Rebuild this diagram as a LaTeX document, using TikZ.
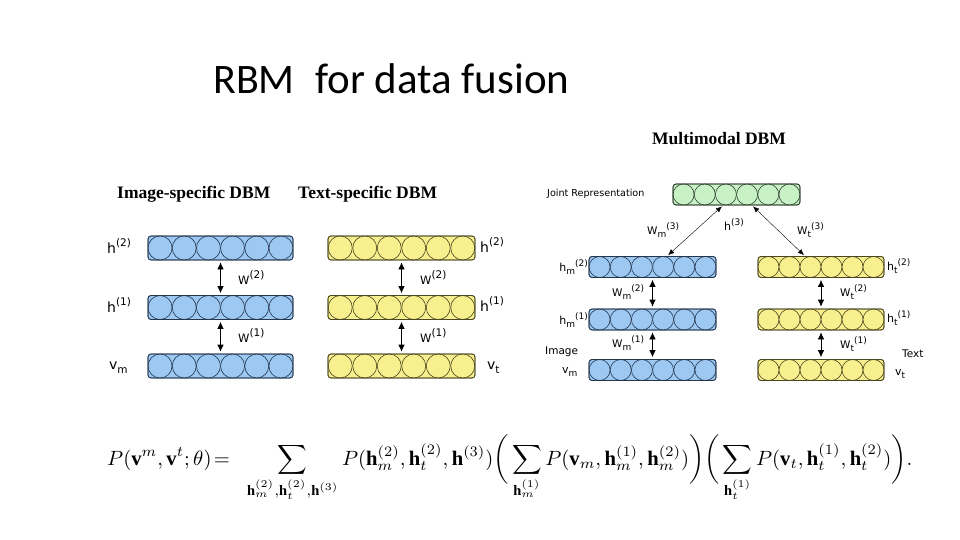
\documentclass[tikz,border=0pt]{standalone}
\usepackage{fontspec}
\usepackage{amsmath}
\setmainfont{Liberation Serif}
\newfontfamily\lab{DejaVu Sans}
\newfontfamily\ttl{Carlito}
\usetikzlibrary{arrows.meta}
\definecolor{bfill}{HTML}{9CC8F2}
\definecolor{bline}{HTML}{24364E}
\definecolor{yfill}{HTML}{F8F08E}
\definecolor{yline}{HTML}{4A4620}
\definecolor{gfill}{HTML}{C8F2C6}
\definecolor{gline}{HTML}{2C3E2C}
\newcommand{\lbl}[5]{{\lab\fontsize{#1}{#1}\selectfont #3\raisebox{-0.28em}{\fontsize{#2}{#2}\selectfont #4}\raisebox{0.5em}{\fontsize{#2}{#2}\selectfont #5}}}
\newcommand{\dbmrow}[8]{%
  \node[barbox, minimum width=#4pt, minimum height=#5pt, fill=#6, draw=#7] (#1) at (#2,#3) {};
  \foreach \i in {0,...,5} {\draw[draw=#7, fill=#6, line width=0.6pt] ({#2-#4/2+(\i+0.5)*#4/6},#3) circle[radius=#8pt];}
  \node[barbox, minimum width=#4pt, minimum height=#5pt, draw=#7] at (#2,#3) {};
}
\tikzset{
  barbox/.style={rectangle, rounded corners=3pt, line width=0.7pt, inner sep=0pt},
  conn/.style={{Latex[length=7pt,width=6.5pt]}-{Latex[length=7pt,width=6.5pt]}, line width=0.7pt, shorten <=2pt, shorten >=2pt},
  diag/.style={{Latex[length=6pt,width=5pt]}-{Latex[length=6pt,width=5pt]}, line width=0.4pt, shorten <=1.5pt, shorten >=1.5pt},
  head/.style={font=\fontsize{17.5}{17.5}\selectfont\bfseries, anchor=base west, inner sep=0pt},
  lab/.style={inner sep=0pt}
}
\begin{document}
\begin{tikzpicture}[x=1pt,y=-1pt]
\useasboundingbox (0,0) rectangle (960,540);
% title
\node[anchor=base west, inner sep=0pt, font=\ttl\fontsize{42}{42}\selectfont] (t1) at (213,94) {RBM};
\node[anchor=base west, inner sep=0pt, font=\ttl\fontsize{43}{43}\selectfont] (t2) at (315,94) {for data fusion};
% headings
\node[head] (hi) at (117,198) {Image-specific DBM};
\node[head] (ht) at (298,198) {Text-specific DBM};
\node[head] (hmm) at (652,145) {Multimodal DBM};
% image-specific
\dbmrow{i2}{220.5}{248}{145}{24}{bfill}{bline}{12}
\dbmrow{i1}{220.5}{307.5}{145}{24}{bfill}{bline}{12}
\dbmrow{i0}{220.5}{366}{145}{24}{bfill}{bline}{12}
\draw[conn] (i2.south) -- (i1.north);
\draw[conn] (i1.south) -- (i0.north);
\node[lab, anchor=west] (li2) at (107,248) {\lbl{14}{10.5}{h}{}{(2)}};
\node[lab, anchor=west] (li1) at (107,307) {\lbl{14}{10.5}{h}{}{(1)}};
\node[lab, anchor=west] (li0) at (109,368) {\lbl{14}{10.5}{v}{m}{}};
\node[lab, anchor=west] (wi2) at (238,279) {\lbl{11.5}{10.5}{W}{}{(2)}};
\node[lab, anchor=west] (wi1) at (238,337) {\lbl{11.5}{10.5}{W}{}{(1)}};
% text-specific
\dbmrow{s2}{401.5}{248}{147}{24}{yfill}{yline}{12}
\dbmrow{s1}{401.5}{307.5}{147}{24}{yfill}{yline}{12}
\dbmrow{s0}{401.5}{366}{147}{24}{yfill}{yline}{12}
\draw[conn] (s2.south) -- (s1.north);
\draw[conn] (s1.south) -- (s0.north);
\node[lab, anchor=west] (ls2) at (480,247) {\lbl{14}{10.5}{h}{}{(2)}};
\node[lab, anchor=west] (ls1) at (480,306) {\lbl{14}{10.5}{h}{}{(1)}};
\node[lab, anchor=west] (ls0) at (487,368) {\lbl{14}{10.5}{v}{t}{}};
\node[lab, anchor=west] (ws2) at (420,279) {\lbl{11.5}{10.5}{W}{}{(2)}};
\node[lab, anchor=west] (ws1) at (420,337) {\lbl{11.5}{10.5}{W}{}{(1)}};
% multimodal
\dbmrow{g}{736.5}{194.5}{127}{21}{gfill}{gline}{10.5}
\dbmrow{m2}{652.5}{267}{127}{21}{bfill}{bline}{10.5}
\dbmrow{m1}{652.5}{319.5}{127}{21}{bfill}{bline}{10.5}
\dbmrow{m0}{652.5}{370}{127}{21}{bfill}{bline}{10.5}
\dbmrow{y2}{821}{267}{126}{21}{yfill}{yline}{10.5}
\dbmrow{y1}{821}{319.5}{126}{21}{yfill}{yline}{10.5}
\dbmrow{y0}{821}{370}{126}{21}{yfill}{yline}{10.5}
\draw[conn] (m2.south) -- (m1.north);
\draw[conn] (m1.south) -- (m0.north);
\draw[conn] (y2.south) -- (y1.north);
\draw[conn] (y1.south) -- (y0.north);
\draw[diag] ([xshift=-13.5pt]g.south) -- ([xshift=14.5pt]m2.north);
\draw[diag] ([xshift=15.5pt]g.south) -- ([xshift=-16pt]y2.north);
\node[lab, anchor=west] (jr) at (547,194) {\lab\fontsize{9.6}{9.6}\selectfont Joint Representation};
\node[lab, anchor=west] (wm3) at (647,230) {\lbl{10.5}{9}{W}{m}{(3)}};
\node[lab, anchor=west] (h3) at (724,226) {\lbl{11}{9}{h}{}{(3)}};
\node[lab, anchor=west] (wt3) at (797,230) {\lbl{10.5}{9}{W}{t}{(3)}};
\node[lab, anchor=east] (lm2) at (588,267) {\lbl{11}{9}{h}{m}{(2)}};
\node[lab, anchor=east] (lm1) at (588,320) {\lbl{11}{9}{h}{m}{(1)}};
\node[lab, anchor=west] (lim) at (545,352) {\lab\fontsize{10.5}{10.5}\selectfont Image};
\node[lab, anchor=west] (lm0) at (562,372) {\lbl{11}{9}{v}{m}{}};
\node[lab, anchor=west] (wm2) at (612,292) {\lbl{10.5}{9}{W}{m}{(2)}};
\node[lab, anchor=west] (wm1) at (612,343) {\lbl{10.5}{9}{W}{m}{(1)}};
\node[lab, anchor=west] (lt2) at (887,266) {\lbl{11}{9}{h}{t}{(2)}};
\node[lab, anchor=west] (lt1) at (887,318) {\lbl{11}{9}{h}{t}{(1)}};
\node[lab, anchor=west] (ltx) at (902,354) {\lab\fontsize{10.5}{10.5}\selectfont Text};
\node[lab, anchor=west] (lt0) at (895,374) {\lbl{11}{9}{v}{t}{}};
\node[lab, anchor=west] (wt2) at (840,292) {\lbl{10.5}{9}{W}{t}{(2)}};
\node[lab, anchor=west] (wt1) at (840,344) {\lbl{10.5}{9}{W}{t}{(1)}};
% equation
\node[anchor=base west, inner sep=0pt] (eq) at (107,465) {\resizebox{805pt}{!}{$\displaystyle P(\mathbf{v}^m,\mathbf{v}^t;\theta)\!=\;\; \sum_{\mathbf{h}_m^{(2)},\mathbf{h}_t^{(2)},\mathbf{h}^{(3)}} P(\mathbf{h}_m^{(2)},\mathbf{h}_t^{(2)},\mathbf{h}^{(3)}) \bigg(\sum_{\mathbf{h}_m^{(1)}} P(\mathbf{v}_m,\mathbf{h}_m^{(1)},\mathbf{h}_m^{(2)})\bigg)\bigg(\sum_{\mathbf{h}_t^{(1)}} P(\mathbf{v}_t,\mathbf{h}_t^{(1)},\mathbf{h}_t^{(2)})\bigg).$}};
\end{tikzpicture}
\end{document}
